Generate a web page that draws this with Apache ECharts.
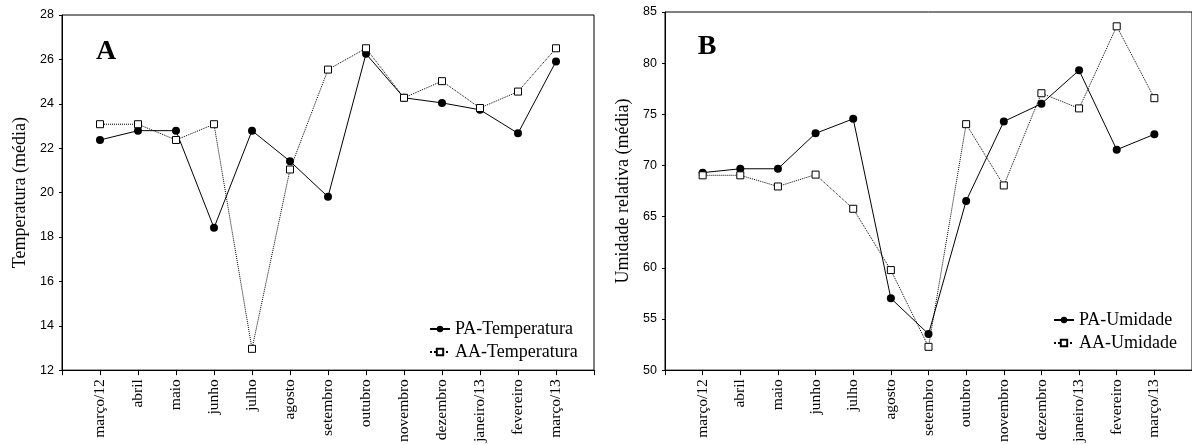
<!DOCTYPE html>
<html>
<head>
<meta charset="utf-8">
<script src="https://cdn.jsdelivr.net/npm/echarts@6/dist/echarts.min.js"></script>
<style>
html,body{margin:0;padding:0;background:#fff;}
#chart{width:1192px;height:445px;}
</style>
</head>
<body>
<div id="chart"></div>
<script>
const categories = ['março/12','abril','maio','junho','julho','agosto','setembro','outubro','novembro','dezembro','janeiro/13','fevereiro','março/13'];
const paTemp = [22.37,22.79,22.79,18.41,22.79,21.41,19.81,26.25,24.27,24.04,23.73,22.67,25.91];
const aaTemp = [23.08,23.08,22.37,23.08,12.96,21.04,25.54,26.50,24.27,25.02,23.81,24.55,26.50];
const paUmid = [69.30,69.68,69.68,73.14,74.56,57.02,53.53,66.54,74.30,76.03,79.30,71.54,73.05];
const aaUmid = [69.04,69.04,67.95,69.11,65.77,59.78,52.28,74.04,68.05,77.06,75.58,83.60,76.58];
const tempTicks = {min:12, max:28, interval:2};
const umidTicks = {min:50, max:85, interval:5};
const seriesNames = ['PA-Temperatura','AA-Temperatura','PA-Umidade','AA-Umidade'];
const axisTitles = ['Temperatura (média)','Umidade relativa (média)'];
const panelLetters = ['A','B'];

const SERIF = 'Liberation Serif';
const SANS = 'Liberation Sans';

function pts(arr){ return arr.map((v,i)=>[i+1, v]); }

function xAxisFor(gi){
  return {
    gridIndex: gi, type:'value', min:0, max:categories.length+1, interval:1,
    axisLine:{show:true, lineStyle:{color:'#000', width:1}},
    axisTick:{show:true, length:5, lineStyle:{color:'#000'}},
    splitLine:{show:false},
    axisLabel:{
      rotate:90, margin:9, fontFamily:SERIF, fontSize:15.5, color:'#000',
      showMinLabel:true, showMaxLabel:true,
      formatter:(v)=> categories[v-1] || ''
    }
  };
}
function yAxisFor(gi, t, name){
  return {
    gridIndex: gi, type:'value', min:t.min, max:t.max, interval:t.interval,
    axisLine:{show:true, lineStyle:{color:'#000', width:1}},
    axisTick:{show:true, length:3, lineStyle:{color:'#000'}},
    splitLine:{show:false},
    axisLabel:{margin:8, fontFamily:SANS, fontSize:12.5, color:'#000'},
    name:name, nameLocation:'middle', nameGap:33,
    nameTextStyle:{fontFamily:SERIF, fontSize:18, color:'#000'}
  };
}
function paSeries(name, data, gi){
  return {
    name, type:'line', xAxisIndex:gi, yAxisIndex:gi, data:pts(data),
    symbol:'circle', symbolSize:8,
    lineStyle:{color:'#000', width:1, type:'solid'},
    itemStyle:{color:'#000'}, z:2
  };
}
function aaSeries(name, data, gi){
  return {
    name, type:'line', xAxisIndex:gi, yAxisIndex:gi, data:pts(data),
    symbol:'rect', symbolSize:7,
    lineStyle:{color:'#000', width:1, type:'dotted'},
    itemStyle:{color:'#fff', borderColor:'#000', borderWidth:1}, z:3
  };
}

const chart = echarts.init(document.getElementById('chart'), null, {renderer:'canvas'});
chart.setOption({
  animation:false,
  backgroundColor:'#fff',
  grid:[
    {left:62, top:15, width:532, height:360, show:true, borderColor:'#000', borderWidth:1, backgroundColor:'transparent'},
    {left:665, top:12, width:530, height:364, show:true, borderColor:'#000', borderWidth:1, backgroundColor:'transparent'}
  ],
  xAxis:[xAxisFor(0), xAxisFor(1)],
  yAxis:[yAxisFor(0, tempTicks, axisTitles[0]), yAxisFor(1, umidTicks, axisTitles[1])],
  legend:[
    {data:[seriesNames[0], seriesNames[1]], orient:'vertical', left:424, top:315,
     itemWidth:20, itemHeight:8, itemGap:5,
     textStyle:{fontFamily:SERIF, fontSize:18, color:'#000'}},
    {data:[seriesNames[2], seriesNames[3]], orient:'vertical', left:1048, top:306,
     itemWidth:20, itemHeight:8, itemGap:5,
     textStyle:{fontFamily:SERIF, fontSize:18, color:'#000'}}
  ],
  graphic:[
    {type:'text', x:106, y:52, style:{text:panelLetters[0], fontFamily:SERIF, fontWeight:'bold', fontSize:28, fill:'#000', align:'center', verticalAlign:'middle'}},
    {type:'text', x:707, y:47, style:{text:panelLetters[1], fontFamily:SERIF, fontWeight:'bold', fontSize:28, fill:'#000', align:'center', verticalAlign:'middle'}}
  ],
  series:[
    paSeries(seriesNames[0], paTemp, 0),
    aaSeries(seriesNames[1], aaTemp, 0),
    paSeries(seriesNames[2], paUmid, 1),
    aaSeries(seriesNames[3], aaUmid, 1)
  ]
});
</script>
</body>
</html>
